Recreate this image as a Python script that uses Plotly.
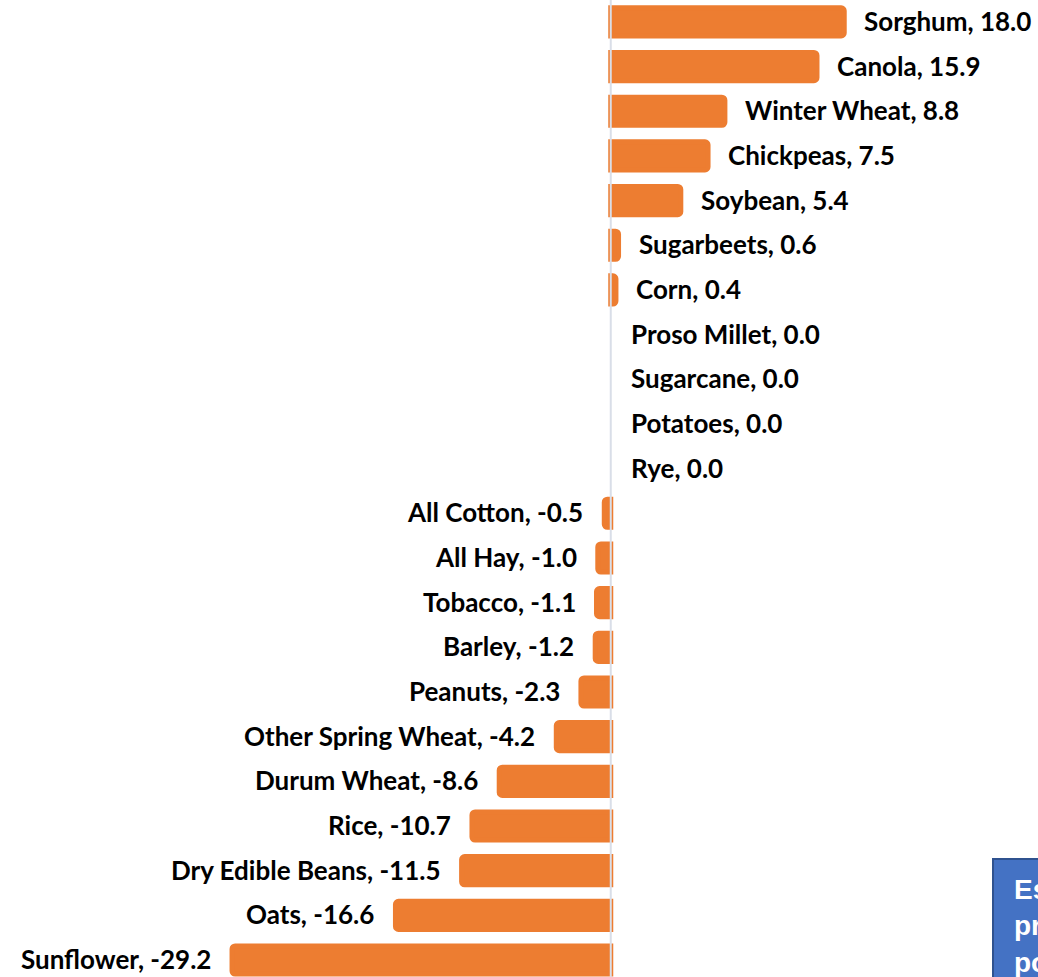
import plotly.graph_objects as go

crops = ["Sorghum", "Canola", "Winter Wheat", "Chickpeas", "Soybean", "Sugarbeets",
         "Corn", "Proso Millet", "Sugarcane", "Potatoes", "Rye", "All Cotton",
         "All Hay", "Tobacco", "Barley", "Peanuts", "Other Spring Wheat",
         "Durum Wheat", "Rice", "Dry Edible Beans", "Oats", "Sunflower"]
changes = [18.0, 15.9, 8.8, 7.5, 5.4, 0.6, 0.4, 0.0, 0.0, 0.0, 0.0, -0.5,
           -1.0, -1.1, -1.2, -2.3, -4.2, -8.6, -10.7, -11.5, -16.6, -29.2]

box_text = "Estimated<br>price<br>points"

ORANGE = "#ED7D31"

line_widths = [0 if v == 0 else 5 for v in changes]

fig = go.Figure()
fig.add_trace(go.Bar(
    x=changes, y=crops, orientation="h",
    marker=dict(color=ORANGE, line=dict(color=ORANGE, width=line_widths), cornerradius=3),
    hoverinfo="skip",
))
fig.update_layout(bargap=0.37)

annotations = []
for name, val in zip(crops, changes):
    pos = val >= 0
    annotations.append(dict(
        x=val, y=name, xref="x", yref="y",
        text=f"{name}, {val:.1f}", showarrow=False,
        xanchor="left" if pos else "right",
        xshift=18 if pos else -19,
        yshift=1,
        font=dict(family="Lato", size=26, color="#000000", weight=700),
    ))

annotations.append(dict(
    x=1012 / 1038, y=1 - 872 / 977, xref="paper", yref="paper",
    xanchor="left", yanchor="top", align="left", showarrow=False,
    text=box_text,
    font=dict(family="Liberation Sans", size=28, color="#FFFFFF", weight=700),
))

shapes = [
    dict(type="line", xref="x", yref="paper", x0=0, x1=0, y0=0, y1=1,
         line=dict(color="#D9DEE8", width=2), layer="above"),
    dict(type="rect", xref="paper", yref="paper",
         x0=993 / 1038, x1=1.2, y0=-0.2, y1=1 - 859 / 977,
         fillcolor="#4472C4", line=dict(color="#2F528F", width=2), layer="above"),
]

fig.update_layout(
    width=1038, height=977,
    margin=dict(l=0, r=0, t=0, b=0),
    paper_bgcolor="white", plot_bgcolor="white",
    showlegend=False,
    xaxis=dict(visible=False, range=[-47.09, 32.94], fixedrange=True),
    yaxis=dict(visible=False, range=[21.38, -0.49], type="category", fixedrange=True),
    annotations=annotations,
    shapes=shapes,
)

fig.write_html("out.html", config={"displayModeBar": False},
               post_script="document.body.style.margin='0';document.body.style.overflow='hidden';")
